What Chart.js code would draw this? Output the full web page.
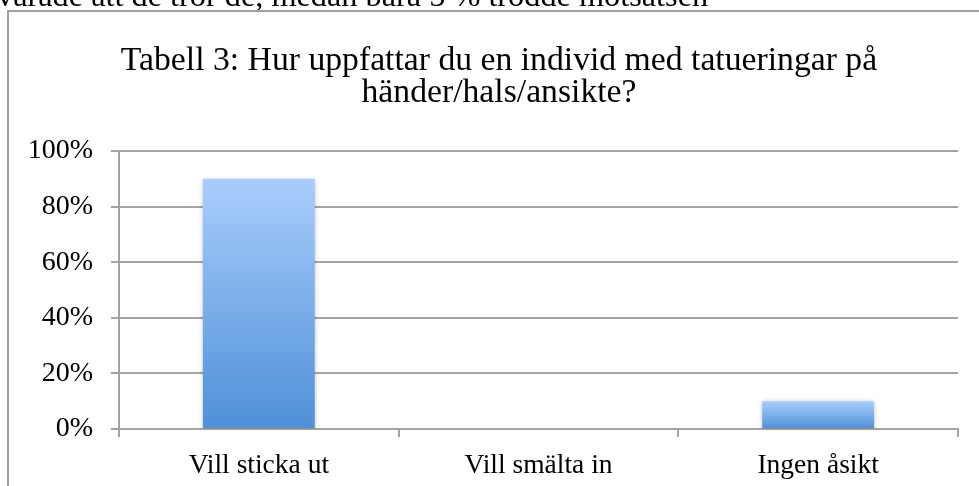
<!DOCTYPE html>
<html>
<head>
<meta charset="utf-8">
<script src="https://cdn.jsdelivr.net/npm/chart.js@4"></script>
<style>
    html, body { margin: 0; padding: 0; background: #fff; }
    #wrap { width: 979px; height: 486px; position: relative; }
</style>
</head>
<body>
<div id="wrap"><canvas id="chart"></canvas></div>
<script>
// Data
const categories = ['Vill sticka ut', 'Vill smälta in', 'Ingen åsikt'];
const shares = [90, 0, 10];
const yMin = 0;
const yMax = 100;
const yStep = 20;

const titleLines = ['Tabell 3: Hur uppfattar du en individ med tatueringar på', 'händer/hals/ansikte?'];
const textAbove = 'varade att de tror de, medan bara 5 % trodde motsatsen';

const serif = '"Liberation Serif", "Times New Roman", serif';
const gridGray = '#a3a3a3';

// Bar gradient, light at the top of each bar, darker at its base
function barFill(context) {
    const chart = context.chart;
    const y = chart.scales.y;
    if (!chart.chartArea || !y) return '#7fb0ea';
    const value = context.raw || 0;
    const top = y.getPixelForValue(value);
    const base = y.getPixelForValue(0);
    if (base - top < 1) return '#7fb0ea';
    const g = chart.ctx.createLinearGradient(0, top, 0, base);
    g.addColorStop(0, '#a9cdfc');
    g.addColorStop(1, '#4f90d8');
    return g;
}

// Page frame, the cut-off text line above it, and the title
const framePlugin = {
    id: 'frame',
    beforeDraw(chart) {
        const ctx = chart.ctx;
        ctx.save();
        ctx.fillStyle = '#000';
        ctx.font = '32.3px ' + serif;
        ctx.textBaseline = 'alphabetic';
        ctx.textAlign = 'left';
        ctx.fillText(textAbove, -3, 6);

        ctx.strokeStyle = '#a0a0a0';
        ctx.lineWidth = 2;
        ctx.beginPath();
        ctx.moveTo(8, 490);
        ctx.lineTo(8, 11);
        ctx.lineTo(985, 11);
        ctx.stroke();

        ctx.font = '33.7px ' + serif;
        ctx.textAlign = 'center';
        ctx.fillText(titleLines[0], 499, 70);
        ctx.fillText(titleLines[1], 499, 102);
        ctx.restore();
    },
    beforeDatasetsDraw(chart) {
        const ctx = chart.ctx;
        ctx.save();
        ctx.shadowColor = 'rgba(0, 0, 0, 0.28)';
        ctx.shadowBlur = 5;
        ctx.shadowOffsetX = 0;
        ctx.shadowOffsetY = 1;
    },
    afterDatasetsDraw(chart) {
        chart.ctx.restore();
    }
};

const config = {
    type: 'bar',
    data: {
        labels: categories,
        datasets: [{
            data: shares,
            backgroundColor: barFill,
            borderWidth: 0,
            barPercentage: 0.4,
            categoryPercentage: 1.0
        }]
    },
    options: {
        responsive: false,
        animation: false,
        devicePixelRatio: 1,
        layout: {
            padding: { top: 151, right: 21, left: 0, bottom: 0 }
        },
        plugins: {
            legend: { display: false },
            title: { display: false },
            tooltip: { enabled: false }
        },
        scales: {
            x: {
                offset: true,
                grid: {
                    offset: true,
                    drawOnChartArea: false,
                    drawTicks: true,
                    tickLength: 8,
                    color: gridGray,
                    lineWidth: 2
                },
                border: { color: gridGray, width: 2 },
                ticks: {
                    color: '#000',
                    padding: 12,
                    maxRotation: 0,
                    font: { family: serif, size: 27.5 }
                },
                afterFit(scale) { scale.height = 57; }
            },
            y: {
                min: yMin,
                max: yMax,
                grid: {
                    color: gridGray,
                    lineWidth: 2,
                    tickLength: 8
                },
                border: { color: gridGray, width: 2 },
                ticks: {
                    stepSize: yStep,
                    color: '#000',
                    padding: 18,
                    font: { family: serif, size: 28 },
                    callback: v => v + '%'
                },
                afterFit(scale) { scale.width = 119; }
            }
        }
    },
    plugins: [framePlugin]
};

const canvas = document.getElementById('chart');
canvas.width = 979;
canvas.height = 486;
new Chart(canvas.getContext('2d'), config);
</script>
</body>
</html>
